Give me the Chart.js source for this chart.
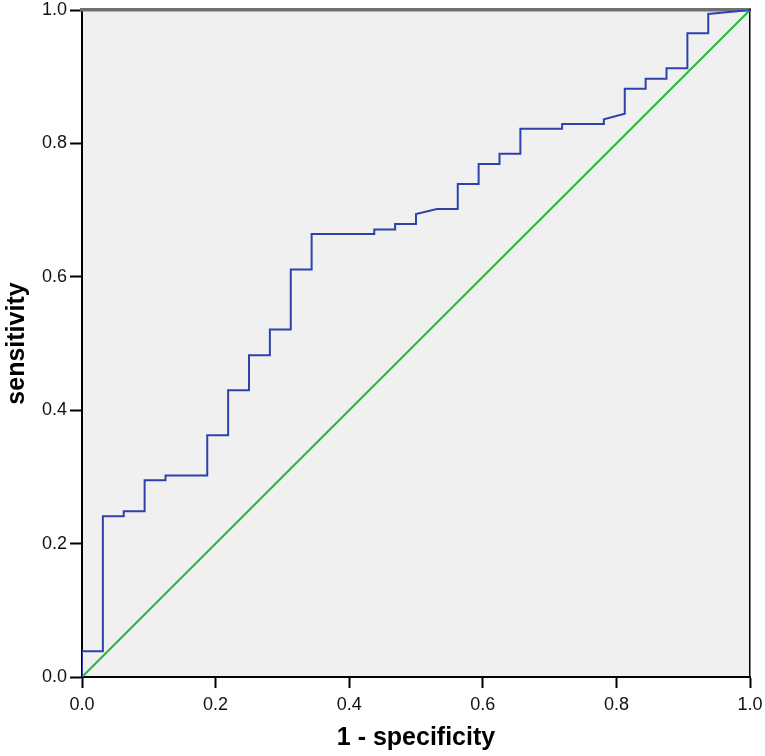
<!DOCTYPE html>
<html>
<head>
<meta charset="utf-8">
<script src="https://cdn.jsdelivr.net/npm/chart.js@4/dist/chart.umd.min.js"></script>
<style>
  html, body { margin: 0; padding: 0; background: #fff; }
  #wrap { width: 765px; height: 756px; position: relative; }
</style>
</head>
<body>
<div id="wrap"><canvas id="rocChart"></canvas></div>
<script>
// ROC vertices (1 - specificity, sensitivity)
const fpr = [0, 0, 0.03125, 0.03125, 0.0625, 0.0625, 0.09375, 0.09375, 0.125, 0.125,
    0.1875, 0.1875, 0.21875, 0.21875, 0.25, 0.25, 0.28125, 0.28125, 0.3125, 0.3125,
    0.34375, 0.34375, 0.4375, 0.4375, 0.46875, 0.46875, 0.5, 0.5, 0.53125, 0.5625,
    0.5625, 0.59375, 0.59375, 0.625, 0.625, 0.65625, 0.65625, 0.71875, 0.71875, 0.78125,
    0.78125, 0.8125, 0.8125, 0.84375, 0.84375, 0.875, 0.875, 0.90625, 0.90625, 0.9375,
    0.9375, 1];
const tpr = [0, 0.0385, 0.0385, 0.241, 0.241, 0.2485, 0.2485, 0.295, 0.295, 0.302,
    0.302, 0.3625, 0.3625, 0.430, 0.430, 0.4825, 0.4825, 0.521, 0.521, 0.611,
    0.611, 0.664, 0.664, 0.671, 0.671, 0.679, 0.679, 0.694, 0.7015, 0.7015,
    0.739, 0.739, 0.769, 0.769, 0.7845, 0.7845, 0.822, 0.822, 0.829, 0.829,
    0.836, 0.8445, 0.882, 0.882, 0.897, 0.897, 0.9125, 0.9125, 0.965, 0.965,
    0.994, 1];
const refX = [0, 1];
const refY = [0, 1];
const tickVals = [0, 0.2, 0.4, 0.6, 0.8, 1.0];

const FONT = "Arial, 'Liberation Sans', sans-serif";

document.addEventListener('DOMContentLoaded', function() {
    // grey plot background
    const plotBg = {
        id: 'plotBg',
        beforeDraw(chart) {
            const {ctx, chartArea: a} = chart;
            ctx.save();
            ctx.fillStyle = '#f0f0f0';
            ctx.fillRect(a.left, a.top, a.right - a.left, a.bottom - a.top);
            ctx.restore();
        }
    };

    const tickFont = { family: FONT, size: 18 };
    const titleFont = { family: FONT, size: 25, weight: 'bold' };

    const rocChart = new Chart(document.getElementById('rocChart').getContext('2d'), {
        type: 'line',
        data: {
            datasets: [{
                data: fpr.map((x, i) => ({ x: x, y: tpr[i] })),
                borderColor: 'rgb(45, 66, 172)',
                borderWidth: 2,
                pointRadius: 0,
                tension: 0,
                fill: false,
                order: 1
            }, {
                data: refX.map((x, i) => ({ x: x, y: refY[i] })),
                borderColor: 'rgb(36, 186, 56)',
                borderWidth: 2,
                pointRadius: 0,
                fill: false,
                order: 2
            }]
        },
        options: {
            responsive: true,
            maintainAspectRatio: false,
            animation: false,
            layout: { padding: 0 },
            plugins: {
                legend: false,
                tooltip: { enabled: false }
            },
            scales: {
                x: {
                    type: 'linear',
                    position: 'bottom',
                    min: 0,
                    max: 1,
                    afterFit(s) { s.height = 79; s.paddingLeft = 0; s.paddingRight = 0; },
                    afterBuildTicks(s) { s.ticks = tickVals.map(v => ({ value: v })); },
                    ticks: {
                        font: tickFont,
                        color: '#111',
                        padding: 6,
                        maxRotation: 0,
                        autoSkip: false,
                        callback: v => v.toFixed(1)
                    },
                    grid: {
                        drawOnChartArea: false,
                        drawTicks: true,
                        tickLength: 11,
                        tickColor: '#000',
                        tickWidth: 2
                    },
                    border: { display: true, color: '#000', width: 2 },
                    title: {
                        display: true,
                        text: '1 - specificity',
                        font: titleFont,
                        color: '#000',
                        padding: { top: 0, bottom: 3 }
                    }
                },
                y: {
                    type: 'linear',
                    position: 'left',
                    min: 0,
                    max: 1,
                    afterFit(s) { s.width = 82; s.paddingTop = 0; s.paddingBottom = 0; },
                    afterBuildTicks(s) { s.ticks = tickVals.map(v => ({ value: v })); },
                    ticks: {
                        font: tickFont,
                        color: '#111',
                        padding: 3,
                        autoSkip: false,
                        callback: v => v.toFixed(1)
                    },
                    grid: {
                        drawOnChartArea: false,
                        drawTicks: true,
                        tickLength: 12,
                        tickColor: '#000',
                        tickWidth: 2
                    },
                    border: { display: true, color: '#000', width: 2 },
                    title: {
                        display: true,
                        text: 'sensitivity',
                        font: titleFont,
                        color: '#000',
                        padding: { top: 2, bottom: 0 }
                    }
                },
                xTop: {
                    type: 'linear',
                    position: 'top',
                    min: 0,
                    max: 1,
                    afterFit(s) { s.height = 10; s.paddingLeft = 0; s.paddingRight = 0; },
                    ticks: { display: false },
                    grid: { display: false, drawTicks: false },
                    border: { display: true, color: '#707070', width: 3.5 }
                },
                yRight: {
                    type: 'linear',
                    position: 'right',
                    min: 0,
                    max: 1,
                    afterFit(s) { s.width = 15; s.paddingTop = 0; s.paddingBottom = 0; },
                    ticks: { display: false },
                    grid: { display: false, drawTicks: false },
                    border: { display: true, color: '#000', width: 1.5 }
                }
            }
        },
        plugins: [plotBg]
    });
});
</script>
</body>
</html>
